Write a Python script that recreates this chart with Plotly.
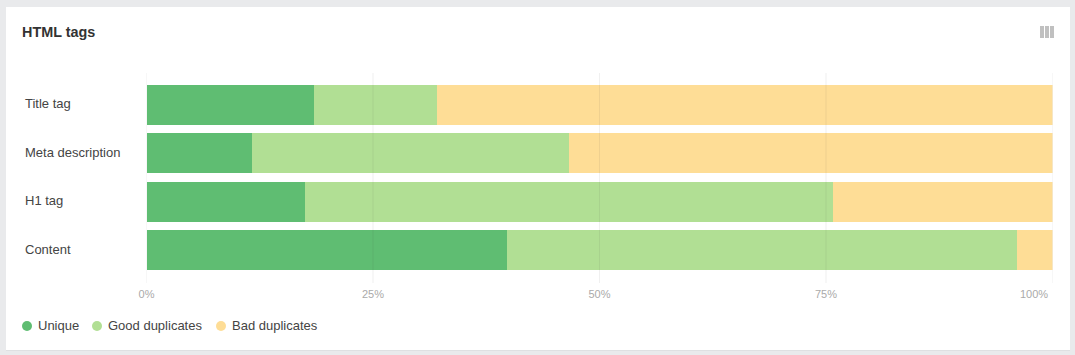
import plotly.graph_objects as go

categories = ["Title tag", "Meta description", "H1 tag", "Content"]
unique = [18.5, 11.65, 17.5, 39.8]
good = [13.55, 35.0, 58.3, 56.3]
bad = [67.95, 53.35, 24.2, 3.9]
series_names = ["Unique", "Good duplicates", "Bad duplicates"]
colors = ["#5fbd72", "#b1df94", "#fedd96"]
x_ticks = [0, 25, 50, 75, 100]

W, H = 1075, 355
FONT = "Liberation Sans, Arial, sans-serif"


def px(v):
    return v / W


def py(v):
    return 1 - v / H


fig = go.Figure()
for name, vals, col in zip(series_names, [unique, good, bad], colors):
    fig.add_trace(go.Bar(y=categories, x=vals, name=name, orientation="h",
                         marker=dict(color=col, line=dict(width=0)),
                         showlegend=False, hoverinfo="x+y+name"))

shapes = [
    dict(type="rect", xref="paper", yref="paper", layer="below",
         x0=px(6), x1=px(1070), y0=py(350), y1=py(7),
         fillcolor="#ffffff", line=dict(width=0)),
    dict(type="line", xref="paper", yref="paper", layer="below",
         x0=px(6), x1=px(1070), y0=py(350.5), y1=py(350.5),
         line=dict(color="#dfe0e2", width=1)),
]
for t in x_ticks:
    shapes.append(dict(type="line", xref="x", yref="paper", layer="above",
                       x0=t, x1=t, y0=py(283), y1=py(73),
                       line=dict(color="rgba(60,60,60,0.08)", width=1)))
for a, b in [(1040, 1044), (1045, 1049), (1050, 1054)]:
    shapes.append(dict(type="rect", xref="paper", yref="paper",
                       x0=px(a), x1=px(b), y0=py(38), y1=py(26),
                       fillcolor="#c0c0c0", line=dict(width=0)))

annotations = [
    dict(text="<b>HTML tags</b>", xref="paper", yref="paper", x=px(20), y=py(32),
         xanchor="left", yanchor="middle", showarrow=False,
         font=dict(family=FONT, size=14.4, color="#333333")),
    dict(text=f"{x_ticks[-1]}%", xref="paper", yref="paper", x=px(1050), y=py(294),
         xanchor="right", yanchor="middle", showarrow=False,
         font=dict(family=FONT, size=11, color="#aaaaaa")),
]
for c in categories:
    annotations.append(dict(text=c, xref="paper", yref="y", x=px(22.5), y=c, yshift=1,
                            xanchor="left", yanchor="middle", showarrow=False,
                            font=dict(family=FONT, size=13, color="#444444")))

legend_marker_x = [27, 97, 221]
for name, col, mx in zip(series_names, colors, legend_marker_x):
    shapes.append(dict(type="circle", xref="paper", yref="paper",
                       x0=px(mx - 5), x1=px(mx + 5), y0=py(331), y1=py(321),
                       fillcolor=col, line=dict(width=0)))
    annotations.append(dict(text=name, xref="paper", yref="paper", x=px(mx + 9), y=py(325),
                            xanchor="left", yanchor="middle", showarrow=False,
                            font=dict(family=FONT, size=13, color="#444444")))

fig.update_layout(
    width=W, height=H, barmode="stack", bargap=0.172,
    margin=dict(l=0, r=0, t=0, b=0), autosize=False, showlegend=False,
    paper_bgcolor="#e9eaec", plot_bgcolor="rgba(0,0,0,0)",
    font=dict(family=FONT, size=13, color="#444444"),
    shapes=shapes, annotations=annotations,
    xaxis=dict(domain=[px(146.5), px(1052.5)], range=[0, 100], anchor="y",
               automargin=False, ticklabelstandoff=3,
               tickmode="array", tickvals=x_ticks[:-1],
               ticktext=[f"{t}%" for t in x_ticks[:-1]],
               showgrid=False, zeroline=False, showline=False, ticks="",
               tickfont=dict(family=FONT, size=11, color="#aaaaaa")),
    yaxis=dict(domain=[py(283), py(73)], range=[3.68, -0.66], type="category",
               automargin=False,
               categoryorder="array", categoryarray=categories,
               showticklabels=False, showgrid=False, zeroline=False, ticks=""),
)
fig.write_html("out.html", config=dict(displayModeBar=False),
               post_script="document.body.style.margin='0';document.documentElement.style.background='#e9eaec';")
